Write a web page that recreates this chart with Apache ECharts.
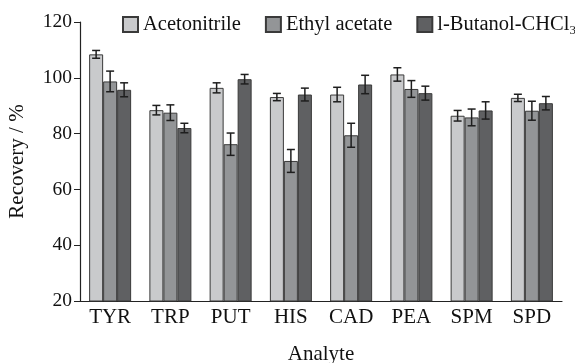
<!DOCTYPE html>
<html>
<head>
<meta charset="utf-8">
<script src="https://cdn.jsdelivr.net/npm/echarts@6/dist/echarts.min.js"></script>
<style>
  html, body { margin: 0; padding: 0; background: #fff; }
  #chart { width: 575px; height: 363px; }
</style>
</head>
<body>
<div id="chart"></div>
<script>
const categories = ['TYR', 'TRP', 'PUT', 'HIS', 'CAD', 'PEA', 'SPM', 'SPD']
const seriesNames = ['Acetonitrile', 'Ethyl acetate', 'l-Butanol-CHCl3']

const acetonitrile = [108.4, 88.4, 96.4, 93.1, 94.0, 101.2, 86.4, 92.8]
const ethylAcetate = [98.7, 87.5, 76.2, 70.2, 79.4, 96.0, 85.8, 88.2]
const butanolChcl3 = [95.7, 82.0, 99.5, 94.0, 97.6, 94.5, 88.3, 90.9]

const acetonitrileErr = [1.4, 1.7, 1.8, 1.3, 2.6, 2.4, 1.9, 1.3]
const ethylAcetateErr = [3.7, 2.8, 4.0, 4.1, 4.3, 3.0, 3.0, 3.4]
const butanolChcl3Err = [2.5, 1.7, 1.7, 2.3, 3.3, 2.5, 3.1, 2.4]

const yTicks = [20, 40, 60, 80, 100, 120]

const colors = ['#c9cacc', '#939597', '#5f6062']
const values = [acetonitrile, ethylAcetate, butanolChcl3]
const errors = [acetonitrileErr, ethylAcetateErr, butanolChcl3Err]

const BAR_W = 14
const font = 'Liberation Serif'

const barSeries = values.map((vals, i) => ({
  name: seriesNames[i],
  type: 'bar',
  barWidth: BAR_W,
  barGap: '0%',
  itemStyle: { color: colors[i], borderColor: '#3a3a3a', borderWidth: 1 },
  data: vals
}))

// error bars, shifted to sit on the matching bar of each group
const errSeries = values.map((vals, i) => ({
  type: 'custom',
  silent: true,
  z: 10,
  data: vals.map((v, j) => [j, v - errors[i][j], v + errors[i][j]]),
  renderItem: (params, api) => {
    const lo = api.coord([api.value(0), api.value(1)])
    const hi = api.coord([api.value(0), api.value(2)])
    const x = lo[0] + (i - 1) * BAR_W
    const cap = 4
    const style = { stroke: '#1e1e1e', lineWidth: 1.5 }
    return {
      type: 'group',
      children: [
        { type: 'line', shape: { x1: x, y1: lo[1], x2: x, y2: hi[1] }, style },
        { type: 'line', shape: { x1: x - cap, y1: hi[1], x2: x + cap, y2: hi[1] }, style },
        { type: 'line', shape: { x1: x - cap, y1: lo[1], x2: x + cap, y2: lo[1] }, style }
      ]
    }
  }
}))

const chart = echarts.init(document.getElementById('chart'))
chart.setOption({
  animation: false,
  textStyle: { fontFamily: font },
  legend: {
    data: seriesNames,
    left: 122,
    top: 14,
    width: 500,
    padding: 0,
    itemWidth: 15,
    itemHeight: 15,
    itemGap: 24,
    icon: 'rect',
    textStyle: {
      fontFamily: font,
      fontSize: 20.5,
      color: '#111',
      rich: {
        sub: { fontFamily: font, fontSize: 13, color: '#111', padding: [13, 0, 0, 0] }
      }
    },
    formatter: name => name === 'l-Butanol-CHCl3' ? 'l-Butanol-CHCl{sub|3}' : name
  },
  grid: { left: 80, right: 13, top: 22, bottom: 62, outerBoundsMode: 'none' },
  xAxis: {
    type: 'category',
    data: categories,
    name: 'Analyte',
    nameLocation: 'middle',
    nameGap: 43,
    nameTextStyle: { fontFamily: font, fontSize: 21, color: '#111' },
    axisLine: { lineStyle: { color: '#222', width: 1.2 } },
    axisTick: { inside: true, length: 6, lineStyle: { color: '#222' } },
    axisLabel: { fontFamily: font, fontSize: 21, color: '#111', margin: 6 }
  },
  yAxis: {
    type: 'value',
    min: yTicks[0],
    max: yTicks[yTicks.length - 1],
    interval: 20,
    name: 'Recovery / %',
    nameLocation: 'middle',
    nameGap: 52,
    nameTextStyle: { fontFamily: font, fontSize: 21, color: '#111' },
    axisLine: { show: true, lineStyle: { color: '#222', width: 1.2 } },
    axisTick: { show: true, length: 6, lineStyle: { color: '#222' } },
    splitLine: { show: false },
    axisLabel: { fontFamily: font, fontSize: 19.5, color: '#111', margin: 8 }
  },
  series: [...barSeries, ...errSeries]
})
</script>
</body>
</html>
